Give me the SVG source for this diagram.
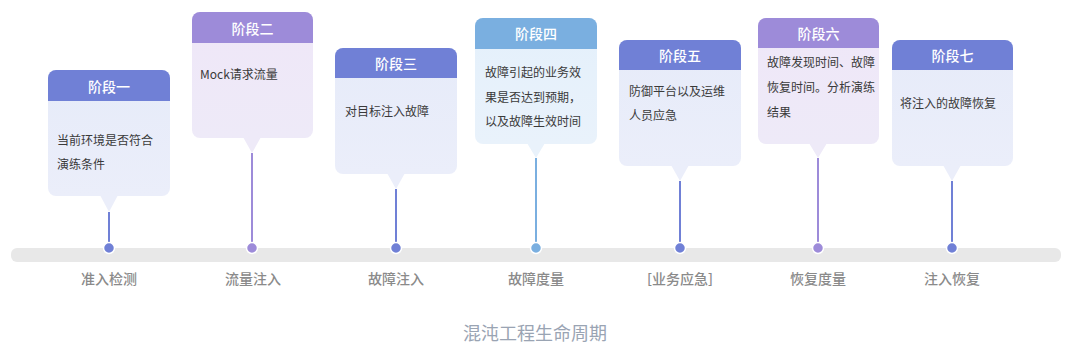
<svg xmlns="http://www.w3.org/2000/svg" width="1080" height="354" viewBox="0 0 1080 354">
<defs>
<linearGradient id="gB" x1="0" y1="0" x2="0" y2="1"><stop offset="0" stop-color="#e6ebf9"/><stop offset="1" stop-color="#ebeefa"/></linearGradient>
<linearGradient id="gP" x1="0" y1="0" x2="0" y2="1"><stop offset="0" stop-color="#efe7f8"/><stop offset="1" stop-color="#eeeaf8"/></linearGradient>
<linearGradient id="gL" x1="0" y1="0" x2="0" y2="1"><stop offset="0" stop-color="#e4f0fb"/><stop offset="1" stop-color="#e9f2fb"/></linearGradient>
</defs>
<style>
text{font-family:"Noto Sans CJK SC","Noto Sans",sans-serif;}
.hd{fill:#fff;font-size:14px;font-weight:500;text-anchor:middle;dominant-baseline:central;}
.bd{fill:#3a3a3a;font-size:12px;dominant-baseline:central;}
.lb{fill:#8a8a8a;font-size:14px;font-weight:500;text-anchor:middle;dominant-baseline:central;}
.ttl{fill:#9aa4b3;font-size:18px;text-anchor:middle;dominant-baseline:central;}
.cB{fill:#7080d6;}.cP{fill:#9d8bd9;}.cL{fill:#7aafe0;}
.sB{stroke:#7080d6;}.sP{stroke:#9d8bd9;}.sL{stroke:#7aafe0;}
.ln{stroke-width:2;fill:none;}
.dot{stroke:#fff;stroke-width:1.5;}
</style>
<rect x="11" y="248" width="1050" height="14" rx="6" fill="#e8e8e8"/>
<g id="connectors">
<line class="ln sB" x1="109" y1="212" x2="109" y2="248"/>
<line class="ln sP" x1="252" y1="153" x2="252" y2="248"/>
<line class="ln sB" x1="396" y1="189" x2="396" y2="248"/>
<line class="ln sL" x1="536" y1="158" x2="536" y2="248"/>
<line class="ln sB" x1="680" y1="181" x2="680" y2="248"/>
<line class="ln sP" x1="818" y1="158" x2="818" y2="248"/>
<line class="ln sB" x1="952" y1="181" x2="952" y2="248"/>
<circle class="dot cB" cx="109" cy="248" r="5.5"/>
<circle class="dot cP" cx="252" cy="248" r="5.5"/>
<circle class="dot cB" cx="396" cy="248" r="5.5"/>
<circle class="dot cL" cx="536" cy="248" r="5.5"/>
<circle class="dot cB" cx="680" cy="248" r="5.5"/>
<circle class="dot cP" cx="818" cy="248" r="5.5"/>
<circle class="dot cB" cx="952" cy="248" r="5.5"/>
</g>
<g id="stage1">
<rect x="48" y="70" width="122" height="126" rx="8" fill="url(#gB)"/>
<polygon points="100,195 118,195 109,212" fill="#ebeefa"/>
<path d="M48,101 V78 a8,8 0 0 1 8,-8 H162 a8,8 0 0 1 8,8 V101 Z" class="cB"/>
<text class="hd" x="109" y="86">阶段一</text>
<text class="bd" x="57" y="139">当前环境是否符合</text>
<text class="bd" x="57" y="163">演练条件</text>
</g>
<g id="stage2">
<rect x="192" y="12" width="121" height="126" rx="8" fill="url(#gP)"/>
<polygon points="243,137 261,137 252,153" fill="#eeeaf8"/>
<path d="M192,43 V20 a8,8 0 0 1 8,-8 H305 a8,8 0 0 1 8,8 V43 Z" class="cP"/>
<text class="hd" x="252.5" y="28">阶段二</text>
<text class="bd" x="200" y="73">Mock请求流量</text>
</g>
<g id="stage3">
<rect x="335" y="48" width="122" height="126" rx="8" fill="url(#gB)"/>
<polygon points="387,173 405,173 396,189" fill="#ebeefa"/>
<path d="M335,78 V56 a8,8 0 0 1 8,-8 H449 a8,8 0 0 1 8,8 V78 Z" class="cB"/>
<text class="hd" x="396" y="63">阶段三</text>
<text class="bd" x="345" y="110">对目标注入故障</text>
</g>
<g id="stage4">
<rect x="475" y="18" width="122" height="126" rx="8" fill="url(#gL)"/>
<polygon points="527,143 545,143 536,158" fill="#e9f2fb"/>
<path d="M475,49 V26 a8,8 0 0 1 8,-8 H589 a8,8 0 0 1 8,8 V49 Z" class="cL"/>
<text class="hd" x="536" y="33">阶段四</text>
<text class="bd" x="485" y="71">故障引起的业务效</text>
<text class="bd" x="485" y="96">果是否达到预期，</text>
<text class="bd" x="485" y="120">以及故障生效时间</text>
</g>
<g id="stage5">
<rect x="619" y="40" width="122" height="126" rx="8" fill="url(#gB)"/>
<polygon points="671,165 689,165 680,181" fill="#ebeefa"/>
<path d="M619,70 V48 a8,8 0 0 1 8,-8 H733 a8,8 0 0 1 8,8 V70 Z" class="cB"/>
<text class="hd" x="680" y="55">阶段五</text>
<text class="bd" x="629" y="90">防御平台以及运维</text>
<text class="bd" x="629" y="114">人员应急</text>
</g>
<g id="stage6">
<rect x="758" y="18" width="121" height="126" rx="8" fill="url(#gP)"/>
<polygon points="809,143 827,143 818,158" fill="#eeeaf8"/>
<path d="M758,48 V26 a8,8 0 0 1 8,-8 H871 a8,8 0 0 1 8,8 V48 Z" class="cP"/>
<text class="hd" x="818.5" y="33">阶段六</text>
<text class="bd" x="767" y="61">故障发现时间、故障</text>
<text class="bd" x="767" y="86">恢复时间。分析演练</text>
<text class="bd" x="767" y="111">结果</text>
</g>
<g id="stage7">
<rect x="892" y="40" width="121" height="126" rx="8" fill="url(#gB)"/>
<polygon points="943,165 961,165 952,181" fill="#ebeefa"/>
<path d="M892,70 V48 a8,8 0 0 1 8,-8 H1005 a8,8 0 0 1 8,8 V70 Z" class="cB"/>
<text class="hd" x="952.5" y="55">阶段七</text>
<text class="bd" x="900" y="102">将注入的故障恢复</text>
</g>
<g id="labels">
<text class="lb" x="109" y="278">准入检测</text>
<text class="lb" x="253" y="278">流量注入</text>
<text class="lb" x="396" y="278">故障注入</text>
<text class="lb" x="536" y="278">故障度量</text>
<text class="lb" x="680" y="278">[业务应急]</text>
<text class="lb" x="818" y="278">恢复度量</text>
<text class="lb" x="952" y="278">注入恢复</text>
</g>
<text class="ttl" x="535" y="332">混沌工程生命周期</text>
</svg>
